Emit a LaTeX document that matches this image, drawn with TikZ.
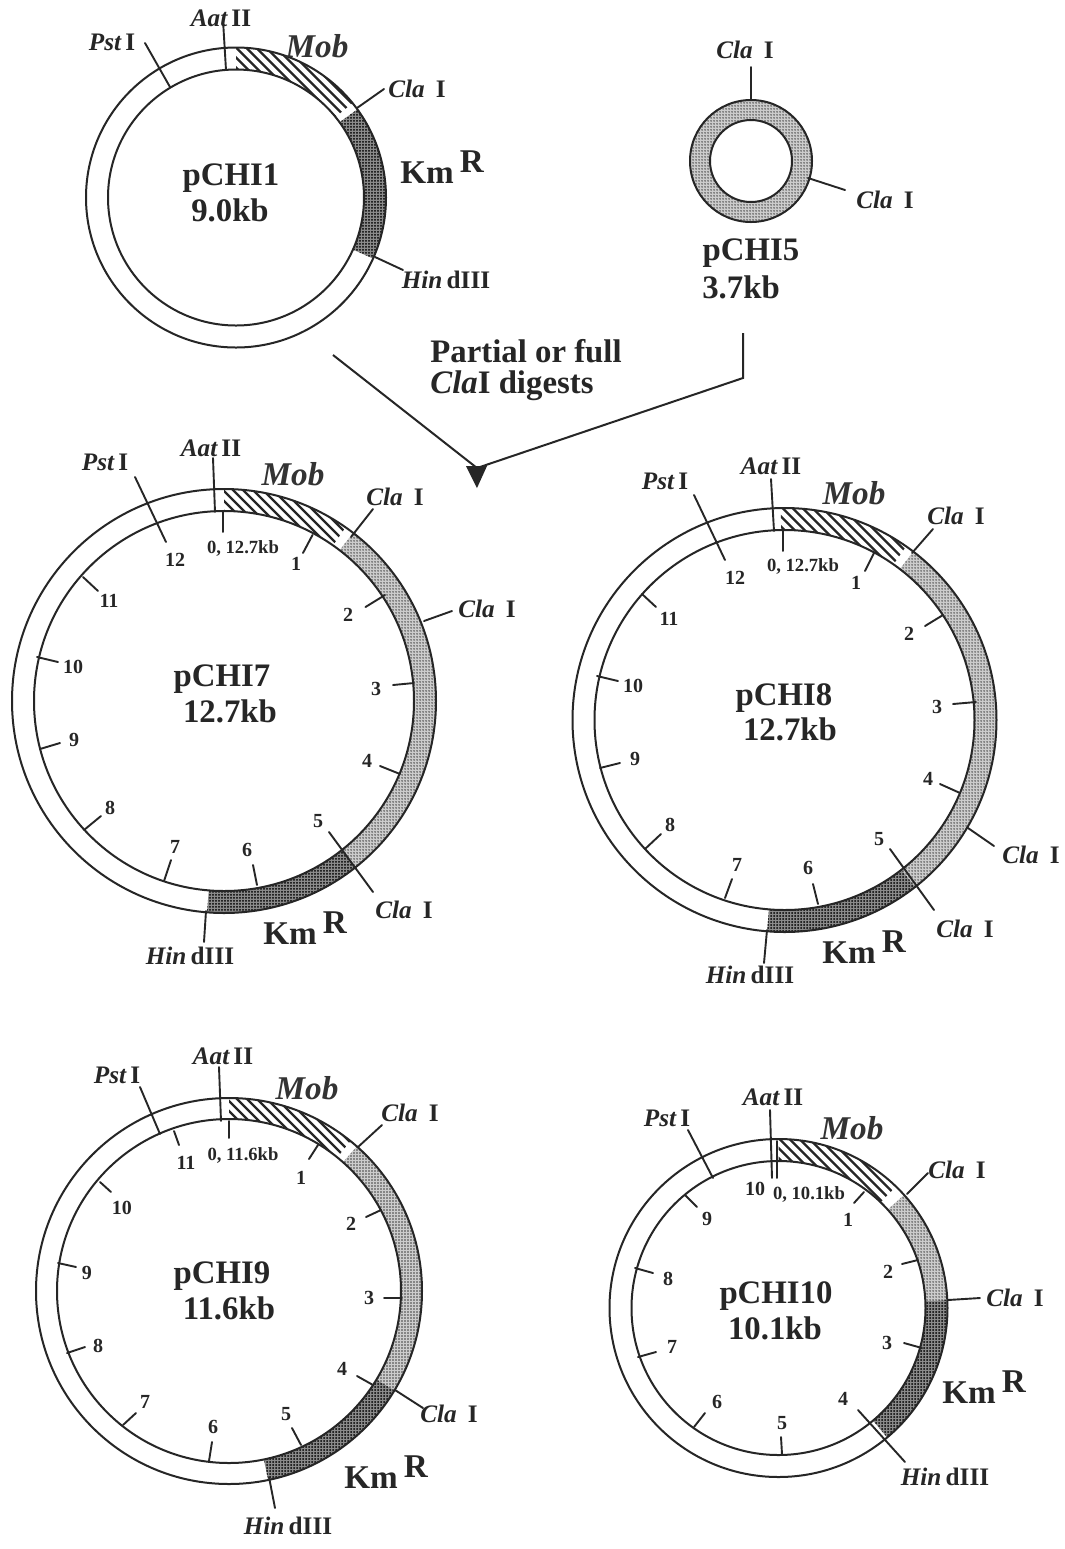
\documentclass[tikz,border=0pt]{standalone}
\usepackage{fontspec}
\setmainfont{Liberation Serif}
\usetikzlibrary{patterns.meta}
\tikzset{
  x=.5pt,y=-.5pt,
  ringline/.style={line width=1pt,black!85},
  lead/.style={line width=.95pt,black!85,line cap=round},
  site/.style={inner sep=0pt,font=\bfseries\fontsize{12.6}{14}\selectfont,text=black!85},
  num/.style={inner sep=0pt,font=\bfseries\fontsize{10}{11}\selectfont,text=black!85},
  kbl/.style={inner sep=0pt,font=\bfseries\fontsize{9.3}{11}\selectfont,text=black!85},
  mobl/.style={inner sep=0pt,font=\bfseries\itshape\fontsize{16.6}{18}\selectfont,text=black!80},
  title/.style={inner sep=0pt,font=\bfseries\fontsize{16.4}{18}\selectfont,text=black!85},
  kml/.style={inner sep=0pt,anchor=base west,font=\bfseries\fontsize{16.6}{18}\selectfont,text=black!85},
  stripe/.style={line width=1.15pt,black!85},
  lightseg/.style={preaction={fill=black!20},pattern={Dots[radius=.38pt,distance=1.5pt]},pattern color=black!75},
  darkseg/.style={preaction={fill=black!45},pattern={Dots[radius=.5pt,distance=1.5pt]},pattern color=black},
}
\newcommand\seg[7]{\begin{scope}[shift={(#1,#2)}]
  \fill[#7] (#5:#3*.5pt) arc[start angle=#5,end angle=#6,radius=#3*.5pt] -- (#6:#4*.5pt) arc[start angle=#6,end angle=#5,radius=#4*.5pt] -- cycle;
\end{scope}}
\newcommand\hseg[6]{\begin{scope}[shift={(#1,#2)}]
  \clip (#5:#3*.5pt) arc[start angle=#5,end angle=#6,radius=#3*.5pt] -- (#6:#4*.5pt) arc[start angle=#6,end angle=#5,radius=#4*.5pt] -- cycle;
  \foreach \k in {-30,...,30} {\draw[stripe] (\k*10-300,-300) -- (\k*10+300,300);}
\end{scope}}
\newcommand\ring[5]{\coordinate (#1-c) at (#2,#3);
  \draw[ringline] (#1-c) circle[radius=#4*.5pt] (#1-c) circle[radius=#5*.5pt];}
\newcommand\tk[5]{\coordinate (#1-a) at (#2,#3);\coordinate (#1-b) at (#4,#5);\draw[lead] (#1-a) -- (#1-b);}
\newcommand\lb[5][num]{\node[#1] (#2) at (#3,#4) {#5};}
\newcommand\cla{{\itshape Cla}\hspace{5.5pt}I}
\newcommand\pst{{\itshape Pst}\,I}
\newcommand\aat{{\itshape Aat}\,II}
\newcommand\hind{{\itshape Hin}\,dIII}
\newcommand\kmr{Km\hspace{3pt}\raisebox{5.2pt}{R}}
\begin{document}
\begin{tikzpicture}
\useasboundingbox (0,0) rectangle (1065,1549);
\fill[white] (0,0) rectangle (1065,1549);

% pCHI1
\hseg{236}{197.5}{150}{128}{90}{39}
\seg{236}{197.5}{150}{128}{36}{-24}{darkseg}
\ring{pa}{236}{197.5}{150}{128}
\tk{pa-pst}{170}{87}{145}{43}
\tk{pa-aat}{226}{70}{223}{20}
\tk{pa-cla}{357}{108}{384}{89}
\tk{pa-hin}{375}{257}{403}{270}
\lb[site]{pa-t1}{112}{42}{\pst}
\lb[site]{pa-t2}{221}{18}{\aat}
\lb[mobl]{pa-t3}{317}{46}{Mob}
\lb[site]{pa-t4}{417}{89}{\cla}
\lb[site]{pa-t5}{446}{280}{\hind}
\node[kml] (pa-km) at (400,183) {\kmr};
\lb[title]{pa-n}{231}{178}{pCHI1}
\lb[title]{pa-s}{230}{210}{9.0kb}

% pCHI5
\seg{751}{161}{61}{41}{0}{360}{lightseg}
\ring{pb}{751}{161}{61}{41}
\tk{pb-c1}{751}{100}{751}{67}
\tk{pb-c2}{808}{178}{845}{190}
\lb[site]{pb-t1}{745}{50}{\cla}
\lb[site]{pb-t2}{885}{200}{\cla}
\lb[title]{pb-n}{751}{253}{pCHI5}
\lb[title]{pb-s}{741}{287}{3.7kb}

% digest arrow
\coordinate (ar-a) at (333,355);
\coordinate (ar-m) at (477,468);
\coordinate (ar-b) at (743,333);
\coordinate (ar-c) at (743,378);
\draw[line width=1pt,black!85] (ar-a) -- (ar-m) -- (ar-c) -- (ar-b);
\fill[black!85] (466,466) -- (487,466) -- (477,488) -- cycle;
\lb[title]{ar-t1}{526}{351}{Partial or full}
\lb[title]{ar-t2}{512}{386}{{\itshape Cla}I digests}

% pCHI7
\hseg{224}{701}{212}{190}{90}{55}
\seg{224}{701}{212}{190}{52.5}{-51.7}{lightseg}
\seg{224}{701}{212}{190}{-51.7}{-94.6}{darkseg}
\ring{pc}{224}{701}{212}{190}
\tk{pc-pst}{135}{477}{166}{542}
\tk{pc-aat}{215}{512}{213}{458}
\tk{pc-0}{223}{512}{223}{532}
\tk{pc-1}{312.5}{535}{303}{553}
\tk{pc-cla}{351}{537}{373}{509}
\tk{pc-2}{385}{595}{365.5}{607}
\tk{pc-clb}{424}{621}{452}{611}
\tk{pc-3}{414}{683}{393}{685}
\tk{pc-4}{400}{774}{380}{766}
\tk{pc-5}{329}{832}{373}{892}
\tk{pc-6}{257}{885}{253}{865}
\tk{pc-7}{164}{881}{171}{860}
\tk{pc-8}{84}{830}{101}{816}
\tk{pc-9}{40}{749}{60}{743}
\tk{pc-10}{37}{657}{58}{662}
\tk{pc-11}{83}{577}{98}{591}
\tk{pc-hin}{206}{911}{204}{942}
\lb[site]{pc-t1}{105}{462}{\pst}
\lb[site]{pc-t2}{211}{448}{\aat}
\lb[mobl]{pc-t3}{293}{474}{Mob}
\lb[site]{pc-t4}{395}{497}{\cla}
\lb[site]{pc-t5}{487}{609}{\cla}
\lb[site]{pc-t6}{404}{910}{\cla}
\lb[site]{pc-t7}{190}{956}{\hind}
\node[kml] (pc-km) at (263,944) {\kmr};
\lb[title]{pc-n}{222}{679}{pCHI7}
\lb[title]{pc-s}{230}{711}{12.7kb}
\lb[kbl]{pc-l0}{243}{548}{0, 12.7kb}
\lb{pc-l1}{296}{564}{1}
\lb{pc-l2}{348}{615}{2}
\lb{pc-l3}{376}{689}{3}
\lb{pc-l4}{367}{761}{4}
\lb{pc-l5}{318}{821}{5}
\lb{pc-l6}{247}{850}{6}
\lb{pc-l7}{175}{847}{7}
\lb{pc-l8}{110}{808}{8}
\lb{pc-l9}{74}{740}{9}
\lb{pc-l10}{73}{667}{10}
\lb{pc-l11}{109}{601}{11}
\lb{pc-l12}{175}{560}{12}

% pCHI8
\hseg{784.5}{720}{212}{190}{91}{55}
\seg{784.5}{720}{212}{190}{52.6}{-52}{lightseg}
\seg{784.5}{720}{212}{190}{-52}{-94.7}{darkseg}
\ring{pd}{784.5}{720}{212}{190}
\tk{pd-pst}{694}{495}{725}{560}
\tk{pd-aat}{774}{531}{771}{479}
\tk{pd-0}{783}{531}{783}{551}
\tk{pd-1}{874}{553}{865}{571}
\tk{pd-cla}{912}{553}{933}{529}
\tk{pd-2}{943}{615}{925}{626}
\tk{pd-3}{976}{702}{953}{704}
\tk{pd-4}{960}{793}{940}{784}
\tk{pd-clb}{968}{828}{994}{846}
\tk{pd-5}{890}{849}{934}{910}
\tk{pd-6}{818}{904}{813}{884}
\tk{pd-7}{725}{898}{732}{879}
\tk{pd-8}{645}{849}{661}{834}
\tk{pd-9}{600}{768}{620}{763}
\tk{pd-10}{597}{676}{618}{681}
\tk{pd-11}{642}{594}{656}{607}
\tk{pd-hin}{767}{930}{764}{963}
\lb[site]{pd-t1}{665}{481}{\pst}
\lb[site]{pd-t2}{771}{466}{\aat}
\lb[mobl]{pd-t3}{854}{493}{Mob}
\lb[site]{pd-t4}{956}{516}{\cla}
\lb[site]{pd-t5}{1031}{855}{\cla}
\lb[site]{pd-t6}{965}{929}{\cla}
\lb[site]{pd-t7}{750}{975}{\hind}
\node[kml] (pd-km) at (822,963) {\kmr};
\lb[title]{pd-n}{784}{698}{pCHI8}
\lb[title]{pd-s}{790}{729}{12.7kb}
\lb[kbl]{pd-l0}{803}{566}{0, 12.7kb}
\lb{pd-l1}{856}{583}{1}
\lb{pd-l2}{909}{634}{2}
\lb{pd-l3}{937}{707}{3}
\lb{pd-l4}{928}{779}{4}
\lb{pd-l5}{879}{839}{5}
\lb{pd-l6}{808}{868}{6}
\lb{pd-l7}{737}{865}{7}
\lb{pd-l8}{670}{825}{8}
\lb{pd-l9}{635}{759}{9}
\lb{pd-l10}{633}{686}{10}
\lb{pd-l11}{669}{619}{11}
\lb{pd-l12}{735}{578}{12}

% pCHI9
\hseg{229}{1291}{193}{172}{90}{51}
\seg{229}{1291}{193}{172}{48.5}{-31}{lightseg}
\seg{229}{1291}{193}{172}{-31}{-78.3}{darkseg}
\ring{pe}{229}{1291}{193}{172}
\tk{pe-pst}{160}{1134}{140}{1087}
\tk{pe-aat}{221}{1121}{219}{1067}
\tk{pe-0}{229}{1121}{229}{1138}
\tk{pe-11}{174}{1131}{179}{1145}
\tk{pe-1}{318}{1145}{309}{1159}
\tk{pe-cla}{358}{1147}{382}{1125}
\tk{pe-2}{381}{1210}{366}{1217}
\tk{pe-3}{402}{1298}{384}{1298}
\tk{pe-4}{373}{1385}{357}{1376}
\tk{pe-clb}{395}{1390}{423}{1408}
\tk{pe-5}{301}{1445}{292}{1428}
\tk{pe-6}{209}{1461}{212}{1442}
\tk{pe-7}{123}{1425}{136}{1413}
\tk{pe-8}{67}{1353}{85}{1347}
\tk{pe-9}{58}{1263}{76}{1267}
\tk{pe-10}{100}{1182}{111}{1192}
\tk{pe-hin}{269}{1477}{275}{1508}
\lb[site]{pe-t1}{117}{1075}{\pst}
\lb[site]{pe-t2}{223}{1056}{\aat}
\lb[mobl]{pe-t3}{307}{1088}{Mob}
\lb[site]{pe-t4}{410}{1113}{\cla}
\lb[site]{pe-t5}{449}{1414}{\cla}
\lb[site]{pe-t6}{288}{1526}{\hind}
\node[kml] (pe-km) at (344,1488) {\kmr};
\lb[title]{pe-n}{222}{1276}{pCHI9}
\lb[title]{pe-s}{229}{1308}{11.6kb}
\lb[kbl]{pe-l0}{243}{1155}{0, 11.6kb}
\lb{pe-l1}{301}{1178}{1}
\lb{pe-l2}{351}{1224}{2}
\lb{pe-l3}{369}{1298}{3}
\lb{pe-l4}{342}{1369}{4}
\lb{pe-l5}{286}{1414}{5}
\lb{pe-l6}{213}{1427}{6}
\lb{pe-l7}{145}{1402}{7}
\lb{pe-l8}{98}{1346}{8}
\lb{pe-l9}{87}{1273}{9}
\lb{pe-l10}{122}{1208}{10}
\lb{pe-l11}{186}{1163}{11}

% pCHI10
\hseg{778.5}{1308}{169}{147}{90}{46}
\seg{778.5}{1308}{169}{147}{42}{2.7}{lightseg}
\seg{778.5}{1308}{169}{147}{2.7}{-50}{darkseg}
\ring{pf}{778.5}{1308}{169}{147}
\tk{pf-pst}{713}{1178}{688}{1130}
\tk{pf-aat}{772}{1178}{770}{1110}
\tk{pf-0}{777}{1141}{777}{1178}
\tk{pf-1}{864}{1192}{854}{1203}
\tk{pf-cla}{907}{1194}{928}{1173}
\tk{pf-2}{918}{1260}{902}{1264}
\tk{pf-clb}{948}{1300}{980}{1298}
\tk{pf-3}{922}{1348}{904}{1343}
\tk{pf-4}{905}{1462}{858}{1410}
\tk{pf-5}{782}{1454}{781}{1437}
\tk{pf-6}{694}{1427}{705}{1413}
\tk{pf-7}{638}{1357}{656}{1352}
\tk{pf-8}{635}{1268}{653}{1273}
\tk{pf-9}{685}{1195}{697}{1207}
\lb[site]{pf-t1}{667}{1118}{\pst}
\lb[site]{pf-t2}{773}{1097}{\aat}
\lb[mobl]{pf-t3}{852}{1128}{Mob}
\lb[site]{pf-t4}{957}{1170}{\cla}
\lb[site]{pf-t5}{1015}{1298}{\cla}
\lb[site]{pf-t6}{945}{1477}{\hind}
\node[kml] (pf-km) at (942,1403) {\kmr};
\lb[title]{pf-n}{776}{1296}{pCHI10}
\lb[title]{pf-s}{775}{1328}{10.1kb}
\lb[kbl]{pf-l0}{809}{1194}{0, 10.1kb}
\lb{pf-l1}{848}{1220}{1}
\lb{pf-l2}{888}{1272}{2}
\lb{pf-l3}{887}{1343}{3}
\lb{pf-l4}{843}{1399}{4}
\lb{pf-l5}{782}{1423}{5}
\lb{pf-l6}{717}{1402}{6}
\lb{pf-l7}{672}{1347}{7}
\lb{pf-l8}{668}{1279}{8}
\lb{pf-l9}{707}{1219}{9}
\lb{pf-l10}{755}{1189}{10}
\end{tikzpicture}
\end{document}
